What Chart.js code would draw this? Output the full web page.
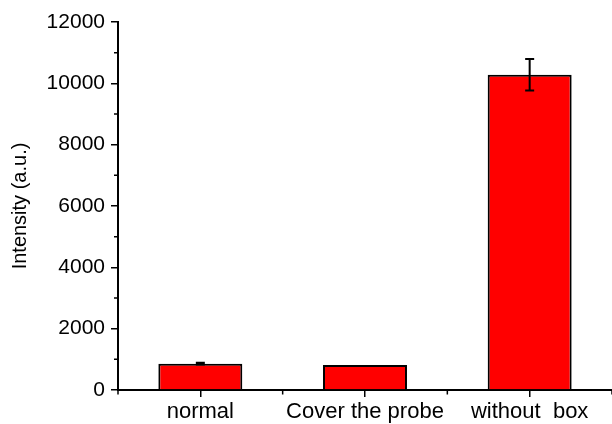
<!DOCTYPE html>
<html>
<head>
<meta charset="utf-8">
<script src="https://cdn.jsdelivr.net/npm/chart.js@4/dist/chart.umd.min.js"></script>
<style>
  html, body { margin: 0; padding: 0; background: #fff; }
  #wrap { width: 612px; height: 424px; }
</style>
</head>
<body>
<div id="wrap"><canvas id="c" width="612" height="424"></canvas></div>
<script>
// Measured intensities per sampling condition
const categories = ['normal', 'Cover the probe', 'without  box'];
const intensity = [860, 815, 10280];
const intensityErr = [25, 0, 510];
const yTicks = [0, 2000, 4000, 6000, 8000, 10000, 12000];
const yMinorTicks = [1000, 3000, 5000, 7000, 9000, 11000];

const FONT = '"Liberation Sans", Arial, sans-serif';

// Error bars with caps, drawn from the data through the scales
const errorBars = {
  id: 'errorBars',
  afterDatasetsDraw(chart) {
    const { ctx, scales: { x, y } } = chart;
    ctx.save();
    ctx.strokeStyle = '#000';
    ctx.lineWidth = 2;
    intensity.forEach((v, i) => {
      const e = intensityErr[i];
      if (!e) return;
      const cx = x.getPixelForValue(i);
      const top = y.getPixelForValue(v + e);
      const bot = y.getPixelForValue(v - e);
      ctx.beginPath();
      ctx.moveTo(cx, top); ctx.lineTo(cx, bot);
      ctx.moveTo(cx - 4.5, top); ctx.lineTo(cx + 4.5, top);
      ctx.moveTo(cx - 4.5, bot); ctx.lineTo(cx + 4.5, bot);
      ctx.stroke();
    });
    ctx.restore();
  }
};

// Short minor ticks on both axes
const minorTicks = {
  id: 'minorTicks',
  afterDraw(chart) {
    const { ctx, chartArea, scales: { x, y } } = chart;
    ctx.save();
    ctx.strokeStyle = '#000';
    ctx.lineWidth = 1.5;
    ctx.beginPath();
    yMinorTicks.forEach(v => {
      const py = y.getPixelForValue(v);
      ctx.moveTo(chartArea.left - 4, py); ctx.lineTo(chartArea.left, py);
    });
    for (let i = 0; i <= categories.length; i++) {
      const px = x.getPixelForValue(i - 0.5);
      ctx.moveTo(px, chartArea.bottom); ctx.lineTo(px, chartArea.bottom + 4.5);
    }
    ctx.stroke();
    ctx.restore();
  }
};

new Chart(document.getElementById('c'), {
  type: 'bar',
  data: {
    labels: categories,
    datasets: [{
      data: intensity,
      backgroundColor: '#ff0000',
      borderColor: '#000',
      borderWidth: 2,
      barPercentage: 0.51,
      categoryPercentage: 1
    }]
  },
  options: {
    responsive: false,
    animation: false,
    devicePixelRatio: 1,
    layout: { padding: { top: 22, right: 0, left: 0, bottom: 0 } },
    plugins: { legend: { display: false }, tooltip: { enabled: false } },
    scales: {
      x: {
        offset: true,
        grid: { offset: false, drawOnChartArea: false, drawTicks: true, tickLength: 7, color: '#000', lineWidth: 1.5 },
        border: { display: true, color: '#000', width: 2 },
        ticks: { color: '#000', font: { family: FONT, size: 22 }, padding: 2, maxRotation: 0, autoSkip: false },
        afterFit(s) { s.height = 34; }
      },
      y: {
        min: 0,
        max: 12000,
        afterBuildTicks(s) { s.ticks = yTicks.map(v => ({ value: v })); },
        grid: { drawOnChartArea: false, drawTicks: true, tickLength: 7, color: '#000', lineWidth: 1.5 },
        border: { display: true, color: '#000', width: 2 },
        ticks: { color: '#000', font: { family: FONT, size: 21 }, padding: 6, callback: v => String(v) },
        title: { display: true, text: 'Intensity (a.u.)', color: '#000', font: { family: FONT, size: 20 }, padding: { top: 8, bottom: 0 } },
        afterFit(s) { s.width = 118; }
      }
    }
  },
  plugins: [errorBars, minorTicks]
});
</script>
</body>
</html>
